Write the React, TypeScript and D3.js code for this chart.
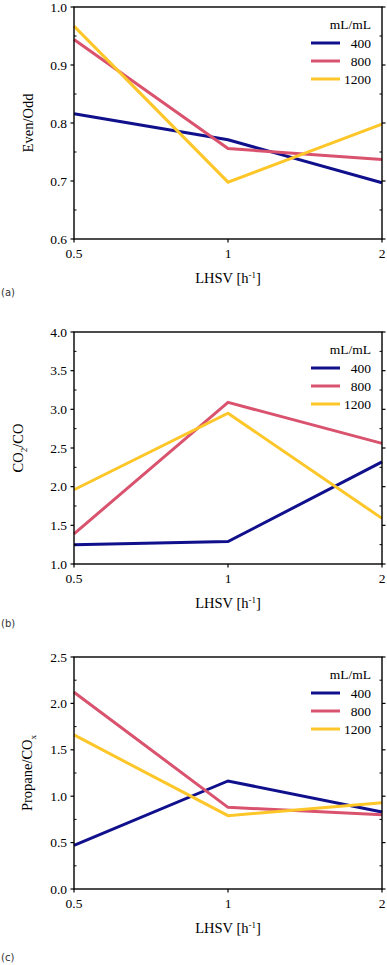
import React from "react";
import { scaleLog, scaleLinear, line, range } from "d3";

// LHSV [h-1] values shared by all three panels
const lhsv = [0.5, 1, 2];
const xTickLabels = ["0.5", "1", "2"];

const seriesNames = ["400", "800", "1200"];
const seriesColors = ["#10108c", "#d9536e", "#fdc629"];

// (a) Even/Odd
const evenOdd400 = [0.816, 0.771, 0.697];
const evenOdd800 = [0.944, 0.756, 0.737];
const evenOdd1200 = [0.967, 0.698, 0.798];
const evenOddTicks = [0.6, 0.7, 0.8, 0.9, 1.0];

// (b) CO2/CO
const co2co400 = [1.25, 1.29, 2.32];
const co2co800 = [1.39, 3.09, 2.56];
const co2co1200 = [1.96, 2.95, 1.59];
const co2coTicks = [1.0, 1.5, 2.0, 2.5, 3.0, 3.5, 4.0];

// (c) Propane/COx
const propane400 = [0.47, 1.164, 0.83];
const propane800 = [2.12, 0.88, 0.8];
const propane1200 = [1.66, 0.79, 0.93];
const propaneTicks = [0.0, 0.5, 1.0, 1.5, 2.0, 2.5];

const LEFT = 74;
const RIGHT = 382;
const PLOT_H = 232;
const SERIF = "'Liberation Serif', 'DejaVu Serif', 'Times New Roman', serif";

type PanelProps = {
  top: number;
  tag: string;
  tagY: number;
  yTicks: number[];
  minorStep: number;
  data: number[][];
  yLabel: React.ReactNode;
  yLabelX: number;
};

const Panel = ({ top, tag, tagY, yTicks, minorStep, data, yLabel, yLabelX }: PanelProps) => {
  const x = scaleLog().base(2).domain([0.5, 2]).range([LEFT, RIGHT]);
  const y = scaleLinear()
    .domain([yTicks[0], yTicks[yTicks.length - 1]])
    .range([top + PLOT_H, top]);
  const bottom = top + PLOT_H;
  const lineGen = line<number>()
    .x((_, i) => x(lhsv[i]))
    .y((d) => y(d));

  const minors = range(yTicks[0], yTicks[yTicks.length - 1] + 1e-9, minorStep).filter(
    (v) => !yTicks.some((t) => Math.abs(t - v) < 1e-9)
  );
  const serif = { fontFamily: SERIF };

  return (
    <g>
      <defs>
        <clipPath id={"clip-" + tag}>
          <rect x={LEFT} y={top} width={RIGHT - LEFT} height={PLOT_H} />
        </clipPath>
      </defs>
      {/* data lines */}
      <g clipPath={`url(#clip-${tag})`}>
        {data.map((s, i) => (
          <path key={i} d={lineGen(s) || ""} fill="none" stroke={seriesColors[i]} strokeWidth={3} />
        ))}
      </g>
      {/* frame */}
      <rect x={LEFT} y={top} width={RIGHT - LEFT} height={PLOT_H} fill="none" stroke="#000" strokeWidth={1.4} />
      {/* y ticks */}
      {yTicks.map((t) => (
        <g key={t}>
          <line x1={LEFT - 3.5} x2={LEFT} y1={y(t)} y2={y(t)} stroke="#000" strokeWidth={1.2} />
          <line x1={RIGHT} x2={RIGHT + 3.5} y1={y(t)} y2={y(t)} stroke="#000" strokeWidth={1.2} />
          <text x={LEFT - 7} y={y(t) + 4.5} textAnchor="end" fontSize={13.5} style={serif}>
            {t.toFixed(1)}
          </text>
        </g>
      ))}
      {minors.map((t) => (
        <g key={"m" + t}>
          <line x1={LEFT} x2={LEFT + 2.5} y1={y(t)} y2={y(t)} stroke="#000" strokeWidth={1} />
          <line x1={RIGHT - 2.5} x2={RIGHT} y1={y(t)} y2={y(t)} stroke="#000" strokeWidth={1} />
        </g>
      ))}
      {/* x ticks */}
      {lhsv.map((v, i) => (
        <g key={v}>
          <line x1={x(v)} x2={x(v)} y1={bottom} y2={bottom + 3.5} stroke="#000" strokeWidth={1.2} />
          <text x={x(v)} y={bottom + 18.5} textAnchor="middle" fontSize={13.5} style={serif}>
            {xTickLabels[i]}
          </text>
        </g>
      ))}
      <text x={(LEFT + RIGHT) / 2} y={bottom + 44} textAnchor="middle" fontSize={14.5} style={serif}>
        LHSV [h<tspan dy={-5} fontSize={9}>-1</tspan><tspan dy={5}>]</tspan>
      </text>
      <text
        transform={`translate(${yLabelX},${top + PLOT_H / 2}) rotate(-90)`}
        textAnchor="middle"
        fontSize={14.5}
        style={serif}
      >
        {yLabel}
      </text>
      {/* legend */}
      <text x={371} y={top + 22} textAnchor="end" fontSize={13.5} style={serif}>
        mL/mL
      </text>
      {seriesNames.map((n, i) => (
        <g key={n}>
          <line x1={311} x2={340} y1={top + 36 + 18 * i} y2={top + 36 + 18 * i} stroke={seriesColors[i]} strokeWidth={3} />
          <text x={371} y={top + 40.5 + 18 * i} textAnchor="end" fontSize={13.5} style={serif}>
            {n}
          </text>
        </g>
      ))}
      <text x={1} y={tagY} fontSize={10} style={{ fontFamily: "'DejaVu Sans', sans-serif" }} fill="#333">
        {tag}
      </text>
    </g>
  );
};

export default function App() {
  return (
    <svg width={387} height={965} style={{ position: "absolute", left: 0, top: 0, background: "#fff" }}>
      <Panel
        top={7}
        tag="(a)"
        tagY={296}
        yTicks={evenOddTicks}
        minorStep={0.05}
        data={[evenOdd400, evenOdd800, evenOdd1200]}
        yLabel="Even/Odd"
        yLabelX={33}
      />
      <Panel
        top={332}
        tag="(b)"
        tagY={627}
        yTicks={co2coTicks}
        minorStep={0.25}
        data={[co2co400, co2co800, co2co1200]}
        yLabel={
          <>
            CO<tspan dy={4} fontSize={9}>2</tspan>
            <tspan dy={-4}>/CO</tspan>
          </>
        }
        yLabelX={23}
      />
      <Panel
        top={657}
        tag="(c)"
        tagY={961}
        yTicks={propaneTicks}
        minorStep={0.25}
        data={[propane400, propane800, propane1200]}
        yLabel={
          <>
            Propane/CO<tspan dy={4} fontSize={9}>x</tspan>
          </>
        }
        yLabelX={32}
      />
    </svg>
  );
}
